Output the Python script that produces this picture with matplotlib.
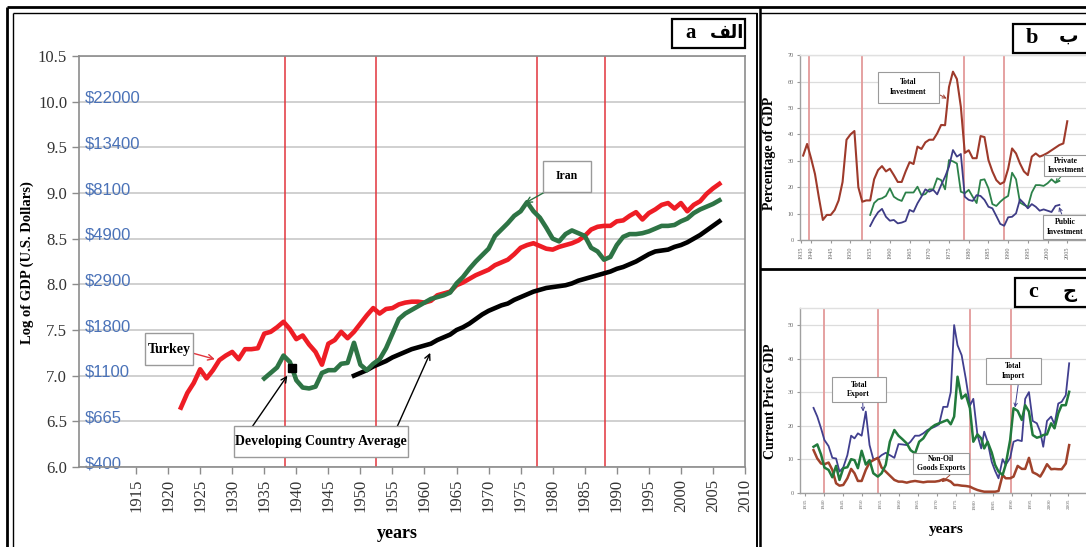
import numpy as np
import matplotlib
matplotlib.use('Agg')
import matplotlib.pyplot as plt
from matplotlib.patches import Rectangle
from matplotlib.lines import Line2D

# ---------------- data: panel a (log GDP per capita) ----------------
turkey_start = 1922
turkey = [6.65, 6.81, 6.92, 7.07, 6.97, 7.06, 7.17, 7.22, 7.26, 7.18,
          7.29, 7.29, 7.30, 7.46, 7.48, 7.53, 7.59, 7.51, 7.40, 7.44,
          7.34, 7.26, 7.12, 7.35, 7.39, 7.48, 7.41, 7.48, 7.57, 7.66,
          7.74, 7.68, 7.73, 7.74, 7.78, 7.80, 7.81, 7.81, 7.80, 7.82,
          7.88, 7.90, 7.92, 7.99, 8.02, 8.06, 8.10, 8.13, 8.16, 8.21,
          8.24, 8.27, 8.33, 8.40, 8.43, 8.45, 8.42, 8.39, 8.38, 8.41,
          8.43, 8.45, 8.48, 8.53, 8.60, 8.63, 8.64, 8.64, 8.69, 8.70,
          8.75, 8.79, 8.71, 8.78, 8.82, 8.87, 8.89, 8.83, 8.89, 8.80,
          8.87, 8.91, 8.99, 9.05, 9.10]
iran_start = 1935
iran = [6.97, 7.03, 7.09, 7.22, 7.15, 6.95, 6.87, 6.86, 6.88, 7.03,
        7.06, 7.06, 7.13, 7.14, 7.36, 7.12, 7.06, 7.13, 7.18, 7.30,
        7.46, 7.62, 7.68, 7.72, 7.76, 7.80, 7.84, 7.86, 7.88, 7.91,
        8.01, 8.08, 8.17, 8.25, 8.32, 8.39, 8.53, 8.60, 8.67, 8.75,
        8.80, 8.90, 8.80, 8.73, 8.62, 8.50, 8.47, 8.55, 8.59, 8.56,
        8.53, 8.40, 8.36, 8.27, 8.30, 8.43, 8.52, 8.55, 8.55, 8.56,
        8.58, 8.61, 8.64, 8.64, 8.65, 8.69, 8.72, 8.78, 8.82, 8.85,
        8.88, 8.92]
dev_start = 1949
dev = [7.00, 7.03, 7.06, 7.10, 7.13, 7.16, 7.20, 7.23, 7.26, 7.29,
       7.31, 7.33, 7.35, 7.39, 7.42, 7.45, 7.50, 7.53, 7.57, 7.62,
       7.67, 7.71, 7.74, 7.77, 7.79, 7.83, 7.86, 7.89, 7.92, 7.94,
       7.96, 7.97, 7.98, 7.99, 8.01, 8.04, 8.06, 8.08, 8.10, 8.12,
       8.14, 8.17, 8.19, 8.22, 8.25, 8.29, 8.33, 8.36, 8.37, 8.38,
       8.41, 8.43, 8.46, 8.50, 8.54, 8.59, 8.64, 8.69]
dev_point_year = [1939.4]
dev_point_val = [7.08]
a_breaks = [1938.2, 1952.4, 1977.6, 1988.2]
a_yticks = [6.0, 6.5, 7.0, 7.5, 8.0, 8.5, 9.0, 9.5, 10.0, 10.5]
a_dollars = ['$400', '$665', '$1100', '$1800', '$2900', '$4900', '$8100', '$13400', '$22000']
a_xticks = list(range(1915, 2011, 5))

# ---------------- data: panel b (investment, % of GDP) ----------------
inv_start = 1938
tot_inv = [32, 36.4, 31, 25, 16, 7.6, 9.5, 9.5, 11.4, 15,
           22, 38, 40, 41.3, 20, 14.5, 15, 15, 23, 26.5,
           28, 26, 27, 24.6, 22, 22, 26, 29.5, 28.8, 35.4,
           34.5, 37, 38, 38, 40.4, 43.6, 43.5, 58, 63.8, 61,
           50.5, 33, 34, 31, 31, 39.4, 39, 30.3, 26, 22.7,
           21.2, 22, 27, 34.7, 32.8, 29, 26, 24.6, 31.6, 32.8,
           31.6, 32.2, 33, 34, 35, 36, 36.6, 45]
pp_start = 1955
priv_inv = [9.5, 14, 15.4, 15.8, 16.7, 19.6, 16.4, 15.4, 14.8, 18,
            18, 18, 20.2, 17, 17.4, 19.2, 19.2, 23.4, 22.7, 19.2,
            30.3, 29.8, 29, 18.3, 17.7, 19, 16.4, 14, 22.7, 23,
            19.6, 13.6, 12.9, 14.5, 15.8, 16.7, 25.5, 23, 14.2, 13.3,
            12.6, 18, 20.8, 20.8, 20.5, 21.5, 23, 21.7, 22.4]
pub_inv = [5.3, 8.2, 10.5, 11.8, 8.8, 7.3, 7.6, 6.3, 6.6, 7.2,
           11.4, 10.7, 13.9, 16.4, 19.2, 18.3, 19, 17.3, 20.8, 24,
           27.8, 34.1, 31.6, 32.6, 16.4, 15.2, 14.8, 17, 16.7, 15.2,
           12.6, 12, 9.1, 6.1, 5.4, 8.6, 8.8, 10.1, 15.4, 13.9,
           12, 13.6, 12.6, 11.1, 11.6, 11.1, 10.6, 12.9, 13.3]
b_breaks = [1939.4, 1953.0, 1978.9, 1989.0]

# ---------------- data: panel c (trade, current price GDP) ----------------
c_years = [1937.2, 1938.2, 1939.2, 1940.1, 1941.2, 1942.2, 1943.2, 1944.1, 1945.1, 1946.2,
           1947.2, 1948.1, 1949.0, 1950.0, 1951.1, 1952.1, 1953.1, 1954.3, 1955.3, 1956.4,
           1957.5, 1958.7, 1959.8, 1960.8, 1962.0, 1963.0, 1964.2, 1965.3, 1966.4, 1967.5,
           1968.5, 1969.5, 1970.6, 1971.7, 1972.8, 1973.7, 1974.6, 1975.5, 1976.6, 1977.7,
           1978.8, 1979.7, 1980.8, 1981.8, 1982.6, 1983.5, 1984.6, 1985.5, 1986.4, 1987.5,
           1988.3, 1989.5, 1990.4, 1991.5, 1992.6, 1993.5, 1994.5, 1995.5, 1996.6, 1997.5,
           1998.3, 1999.3, 2000.4, 2001.3, 2002.3, 2003.2, 2004.3, 2005.2]
exp_vals = [25.3, 22.7, 19.2, 15.7, 13.9, 10.4, 10.2, 6.3, 7.5, 11.2,
            17.0, 16.2, 17.7, 17.0, 24.2, 14.2, 10.0, 10.2, 11.2, 11.9,
            11.2, 10.4, 14.5, 14.4, 14.2, 15.2, 17.0, 17.0, 17.7, 18.7,
            19.2, 19.7, 20.4, 25.6, 25.6, 30.0, 50.0, 44.0, 41.0, 34.0,
            26.0, 28.0, 17.2, 13.2, 18.2, 15.2, 9.2, 6.5, 4.3, 10.0,
            8.3, 10.4, 15.2, 15.7, 15.4, 28.0, 30.0, 21.4, 20.7, 18.2,
            13.7, 21.4, 22.7, 20.4, 26.6, 27.1, 29.1, 38.6]
imp_vals = [13.7, 14.4, 11.4, 7.5, 6.8, 4.6, 8.0, 3.8, 7.3, 7.6,
            10.0, 9.7, 7.3, 12.5, 8.4, 9.7, 5.8, 4.8, 5.8, 8.3,
            15.2, 18.7, 17.0, 16.0, 14.7, 12.7, 11.7, 15.2, 16.2, 18.2,
            19.4, 20.2, 20.7, 21.2, 21.7, 20.4, 22.7, 34.6, 28.1, 29.3,
            25.2, 15.2, 17.4, 16.2, 13.2, 15.2, 12.0, 8.3, 6.3, 5.3,
            8.3, 15.7, 25.2, 24.4, 21.7, 26.1, 24.2, 17.2, 16.4, 16.7,
            17.2, 17.4, 20.7, 19.2, 23.7, 26.1, 26.1, 30.1]
noil_vals = [12.7, 10.2, 8.7, 8.5, 9.0, 6.8, 2.8, 2.1, 2.3, 4.3,
             7.1, 5.8, 3.5, 3.5, 6.8, 9.0, 9.7, 10.4, 7.5, 6.3,
             5.1, 3.8, 3.3, 3.3, 3.0, 3.3, 3.5, 3.3, 3.1, 3.3,
             3.3, 3.3, 3.5, 4.0, 3.8, 3.3, 2.3, 2.3, 2.1, 2.0,
             1.8, 1.3, 0.8, 0.5, 0.3, 0.3, 0.3, 0.3, 0.5, 5.3,
             4.3, 4.3, 4.8, 8.0, 7.1, 7.1, 10.4, 6.1, 5.5, 4.8,
             6.3, 8.5, 7.0, 7.1, 7.0, 7.0, 8.7, 14.2]
c_breaks = [1940.0, 1954.3, 1978.8, 1989.6]

# ---------------- helpers ----------------
W, H = 1086, 547
def fx(x): return x / W
def fy(y): return 1 - y / H

SERIF = 'Liberation Serif'
SANS = 'Liberation Sans'

fig = plt.figure(figsize=(W / 100, H / 100), dpi=100)
fig.patch.set_facecolor('white')

def fline(x0, y0, x1, y1, lw):
    fig.add_artist(Line2D([fx(x0), fx(x1)], [fy(y0), fy(y1)], transform=fig.transFigure,
                          color='black', lw=lw, zorder=10, solid_capstyle='butt'))

def fbox(x0, y0, x1, y1, ec='#9a9a9a', lw=1.0, z=7):
    fig.add_artist(Rectangle((fx(x0), fy(y1)), (x1 - x0) / W, (y1 - y0) / H,
                             transform=fig.transFigure, facecolor='white',
                             edgecolor=ec, lw=lw, zorder=z))

def ftext(x, y, s, size, **kw):
    fig.text(fx(x), fy(y), s, fontsize=size, ha='center', va='center', zorder=12, **kw)

# ---------------- panel a ----------------
ax = fig.add_axes([fx(79), fy(467), fx(745) - fx(79), fy(56) - fy(467)])
ax.set_xlim(1906.1, 2010)
ax.set_ylim(6, 10.5)
ax.set_yticks(a_yticks)
ax.set_yticklabels(['%.1f' % v for v in a_yticks], fontfamily=SERIF, fontsize=12, color='#333333')
ax.set_xticks(a_xticks)
ax.set_xticklabels([str(v) for v in a_xticks], rotation=90, fontfamily=SERIF, fontsize=12, color='#333333')
ax.tick_params(axis='both', color='#8c8c8c', length=5, width=1)
ax.grid(axis='y', color='#c8c8c8', lw=1.2, zorder=0)
ax.set_axisbelow(True)
for s in ax.spines.values():
    s.set_color('#8c8c8c'); s.set_linewidth(1.2)
for b in a_breaks:
    ax.axvline(b, color='#e2343c', lw=1.1, zorder=1)
for v, lab in zip(a_yticks, a_dollars):
    ax.text(1907.0, v - 0.012, lab, color='#4a72b8', fontsize=12, fontfamily=SANS,
            va='baseline', ha='left', zorder=2)
ax.plot(np.arange(dev_start, dev_start + len(dev)), dev, color='black', lw=3.3, zorder=3,
        solid_joinstyle='round')
ax.plot(np.arange(turkey_start, turkey_start + len(turkey)), turkey, color='#ee1d25', lw=3.3,
        zorder=4, solid_joinstyle='round')
ax.plot(np.arange(iran_start, iran_start + len(iran)), iran, color='#2e7445', lw=3.3, zorder=5,
        solid_joinstyle='round')
ax.plot(dev_point_year, dev_point_val, 's', color='black', ms=6, zorder=6)

def ax_arrow(axis, tip, tail, color):
    axis.annotate('', xy=tip, xycoords='data', xytext=(fx(tail[0]), fy(tail[1])),
                  textcoords='figure fraction', annotation_clip=False,
                  arrowprops=dict(arrowstyle='->', color=color, lw=1.0, shrinkA=0, shrinkB=0))

ax_arrow(ax, (1927.3, 7.18), (193.3, 353.3), '#e2343c')
ax_arrow(ax, (1938.6, 7.00), (252, 427), 'black')
ax_arrow(ax, (1960.9, 7.25), (397, 427), 'black')
ax_arrow(ax, (1975.7, 8.89), (545, 192), '#2e7445')

fbox(145, 333.3, 193.3, 365)
ftext(169, 349, 'Turkey', 10, fontfamily=SERIF, fontweight='bold')
fbox(234.3, 426, 408.3, 456.7)
ftext(321.3, 441.3, 'Developing Country Average', 10, fontfamily=SERIF, fontweight='bold')
fbox(542.7, 160.7, 590.7, 191.7)
ftext(566.7, 176.2, 'Iran', 8.5, fontfamily=SERIF, fontweight='bold')

fig.text(fx(27), fy(263), 'Log of GDP (U.S. Dollars)', rotation=90, ha='center', va='center',
         fontsize=10.5, fontweight='bold', fontfamily=SERIF)
fig.text(fx(397), fy(533), 'years', ha='center', va='center', fontsize=13,
         fontweight='bold', fontfamily=SERIF)

# ---------------- panel b ----------------
def small_axes(rect, xlim, ylim, yticks, xticks, xlabels):
    a = fig.add_axes(rect)
    a.set_xlim(*xlim); a.set_ylim(*ylim)
    a.set_yticks(yticks)
    a.set_yticklabels([str(v) for v in yticks], fontfamily=SERIF, fontsize=4.5, color='#666666')
    a.set_xticks(xticks)
    a.set_xticklabels(xlabels, rotation=90, fontfamily=SERIF, fontsize=4.5, color='#666666')
    a.tick_params(axis='both', color='#999999', length=2.5, width=0.8, pad=2)
    a.grid(axis='y', color='#dcdcdc', lw=0.9)
    a.set_axisbelow(True)
    for k, s in a.spines.items():
        s.set_color('#a0a0a0' if k in ('left', 'bottom') else '#e0e0e0')
        s.set_linewidth(1.0)
    return a

bx_left, bx_right = 1937.2, 2013.3
bticks = [1937.4] + list(range(1940, 2006, 5))
blabels = ['1935'] + [str(v) for v in range(1940, 2006, 5)]
axb = small_axes([fx(800), fy(240), fx(1100) - fx(800), fy(55.3) - fy(240)],
                 (bx_left, bx_right), (0, 70), list(range(0, 71, 10)), bticks, blabels)
for b in b_breaks:
    axb.axvline(b, color='#e39a9a', lw=1.3, zorder=1)
axb.plot(np.arange(inv_start, inv_start + len(tot_inv)), tot_inv, color='#9e3a2b', lw=1.5, zorder=3)
axb.plot(np.arange(pp_start, pp_start + len(priv_inv)), priv_inv, color='#2c8149', lw=1.3, zorder=3)
axb.plot(np.arange(pp_start, pp_start + len(pub_inv)), pub_inv, color='#3e3c86', lw=1.3, zorder=3)

def ax_arrow_s(axis, tip, tail, color):
    axis.annotate('', xy=tip, xycoords='data', xytext=(fx(tail[0]), fy(tail[1])),
                  textcoords='figure fraction', annotation_clip=False,
                  arrowprops=dict(arrowstyle='->', color=color, lw=0.7, shrinkA=0, shrinkB=0,
                                  mutation_scale=6))

ax_arrow_s(axb, (1974.4, 53.6), (940, 95), '#9e3a2b')
ax_arrow_s(axb, (2001.9, 21.7), (1061, 176.7), '#2c8149')
ax_arrow_s(axb, (2002.9, 12.5), (1061.7, 214), '#3e3c86')
fbox(877.7, 72, 939.3, 102.7, lw=0.8)
ftext(908.5, 87.3, 'Total\nInvestment', 5.5, fontfamily=SERIF, fontweight='bold', linespacing=1.3)
fbox(1044, 155, 1095, 176, lw=0.8)
ftext(1066, 165.5, 'Private\nInvestment', 5.5, fontfamily=SERIF, fontweight='bold', linespacing=1.2)
fbox(1043, 215, 1095, 239, lw=0.8)
ftext(1065, 227, 'Public\nInvestment', 5.5, fontfamily=SERIF, fontweight='bold', linespacing=1.2)

fig.text(fx(770), fy(153), 'Percentage of GDP', rotation=90, ha='center', va='center',
         fontsize=10, fontweight='bold', fontfamily=SERIF)

# ---------------- panel c ----------------
cx_left, cx_right = 1933.6, 2013.4
cticks = list(range(1935, 2006, 5))
axc = small_axes([fx(800), fy(492.7), fx(1100) - fx(800), fy(308.3) - fy(492.7)],
                 (cx_left, cx_right), (0, 55), list(range(0, 51, 10)), cticks,
                 [str(v) for v in cticks])
axc.tick_params(axis='x', labelsize=3.8)
for b in c_breaks:
    axc.axvline(b, color='#e39a9a', lw=1.3, zorder=1)
axc.plot(c_years, exp_vals, color='#413f8f', lw=1.3, zorder=3)
axc.plot(c_years, imp_vals, color='#217a3c', lw=1.8, zorder=4)
axc.plot(c_years, noil_vals, color='#a0422b', lw=1.8, zorder=3)

ax_arrow_s(axc, (1950.4, 24.2), (862.7, 402.3), '#413f8f')
ax_arrow_s(axc, (1990.8, 25.4), (1018.3, 384), '#413f8f')
ax_arrow_s(axc, (1971.3, 3.1), (950, 475), '#a0422b')
fbox(831.7, 376.7, 886, 402.3, lw=0.8)
ftext(858.8, 389.5, 'Total\nExport', 5.5, fontfamily=SERIF, fontweight='bold', linespacing=1.3)
fbox(985.7, 358.3, 1040.7, 384, lw=0.8)
ftext(1013.2, 371, 'Total\nImport', 5.5, fontfamily=SERIF, fontweight='bold', linespacing=1.3)
fbox(913.3, 453.3, 969.3, 474.3, lw=0.8)
ftext(941.3, 463.8, 'Non-Oil\nGoods Exports', 5.5, fontfamily=SERIF, fontweight='bold', linespacing=1.2)

fig.text(fx(770), fy(401), 'Current Price GDP', rotation=90, ha='center', va='center',
         fontsize=10, fontweight='bold', fontfamily=SERIF)
fig.text(fx(946), fy(529), 'years', ha='center', va='center', fontsize=11,
         fontweight='bold', fontfamily=SERIF)

# ---------------- panel tags ----------------
ARAB = ['DejaVu Sans']
fbox(671.7, 19.3, 745, 47.7, ec='black', lw=1.6, z=11)
fline(709.3, 19.3, 709.3, 47.7, 1.6)
ftext(690.5, 33.0, 'a', 15, fontfamily=SERIF, fontweight='bold')
ftext(727.2, 32.5, '\ufed2\ufedf\ufe8d', 13, fontfamily=ARAB, fontweight='bold')

fbox(1013.3, 24, 1100, 52.7, ec='black', lw=1.6, z=11)
fline(1050.7, 24, 1050.7, 52.7, 1.6)
ftext(1032, 38, 'b', 16, fontfamily=SERIF, fontweight='bold')
ftext(1068.5, 36.5, '\u0628', 14, fontfamily=ARAB, fontweight='bold')

fbox(1015, 278.3, 1100, 306.7, ec='black', lw=1.6, z=11)
fline(1051.7, 278.3, 1051.7, 306.7, 1.6)
ftext(1033.3, 292, 'c', 16, fontfamily=SERIF, fontweight='bold')
ftext(1069.5, 292, '\u062c', 14, fontfamily=ARAB, fontweight='bold')

# ---------------- outer frames ----------------
fline(7.3, 7.3, 1090, 7.3, 2.0)       # top outer
fline(7.3, 7.3, 7.3, 560, 2.0)        # left outer
fline(12.7, 12.7, 756.5, 12.7, 1.0)   # top inner (a)
fline(12.7, 12.7, 12.7, 560, 1.0)     # left inner
fline(760, 12.7, 1090, 12.7, 1.0)     # top inner (b)
fline(756.5, 12.7, 756.5, 560, 1.4)   # right of a
fline(760, 7.3, 760, 560, 1.8)        # left of b/c
fline(760, 269, 1090, 269, 2.0)       # b/c separator

fig.savefig('out.png', dpi=100)
